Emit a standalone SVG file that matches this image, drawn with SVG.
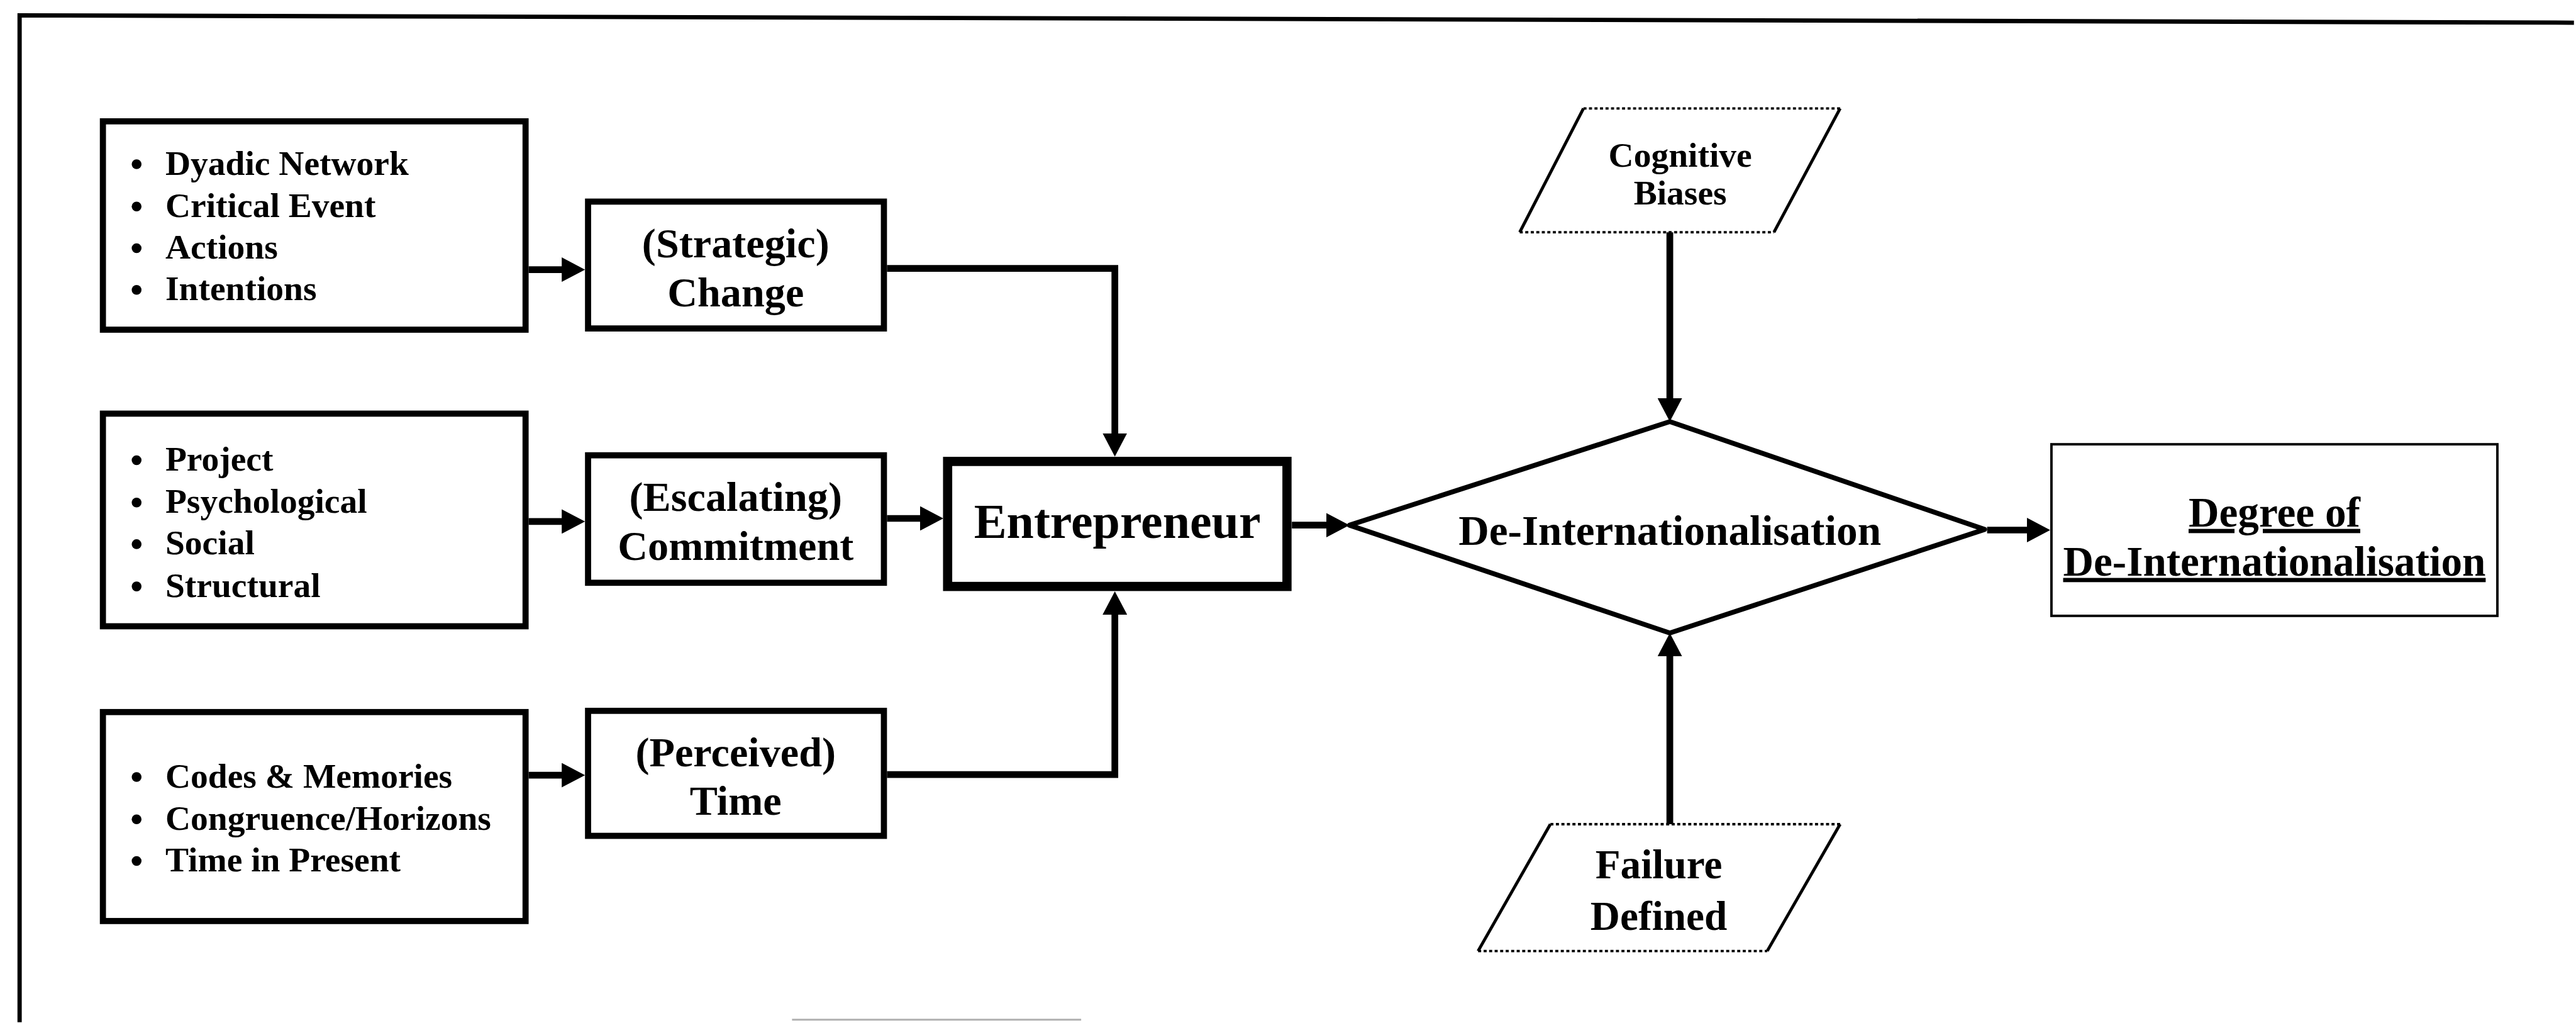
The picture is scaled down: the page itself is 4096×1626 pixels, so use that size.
<svg xmlns="http://www.w3.org/2000/svg" width="4096" height="1626" viewBox="0 0 4096 1626">
  <style>
    .box { fill: #fff; stroke: #000; stroke-width: 10; }
    .main { fill: #fff; stroke: #000; stroke-width: 15; }
    .thin { fill: #fff; stroke: #000; stroke-width: 4; }
    .dia { fill: #fff; stroke: #000; stroke-width: 8; stroke-linejoin: round; }
    .pfill { fill: #fff; stroke: none; }
    .dot { fill: none; stroke: #000; stroke-width: 4; stroke-dasharray: 5 4; }
    .side { fill: none; stroke: #000; stroke-width: 5; }
    .conn { fill: none; stroke: #000; stroke-width: 11; marker-end: url(#head); }
    .t { font-family: "Liberation Serif", "Times New Roman", serif; font-weight: bold; fill: #000; }
    .list { font-size: 57px; }
    .mid { font-size: 68px; text-anchor: middle; }
    .big { font-size: 80px; text-anchor: middle; }
    .dec { font-size: 69px; text-anchor: middle; }
    .inp { font-size: 57px; text-anchor: middle; }
    .inp2 { font-size: 67px; text-anchor: middle; }
    .ul { text-decoration: underline; }
  </style>
  <defs>
    <marker id="head" markerUnits="userSpaceOnUse" viewBox="0 0 38 40" markerWidth="38" markerHeight="40" refX="26" refY="20" orient="auto">
      <path d="M0,0 L38,20 L0,40 Z" fill="#000"/>
    </marker>
  </defs>
  <rect width="4096" height="1626" fill="#fff"/>
  <g transform="scale(0.974)">
    <!-- outer frame: left and top rules only -->
    <path d="M32,1668 L32,25 L4202,37" fill="none" stroke="#000" stroke-width="7"/>
    <path d="M1293,1664 H1765" fill="none" stroke="#b0b0b0" stroke-width="3"/>

    <!-- antecedent lists -->
    <g id="list-change">
      <rect class="box" x="168" y="198" width="690" height="340"/>
      <circle cx="223" cy="268" r="8"/><circle cx="223" cy="337" r="8"/>
      <circle cx="223" cy="405" r="8"/><circle cx="223" cy="473" r="8"/>
      <text class="t list" x="270" y="285">Dyadic Network</text>
      <text class="t list" x="270" y="354">Critical Event</text>
      <text class="t list" x="270" y="422">Actions</text>
      <text class="t list" x="270" y="490">Intentions</text>
    </g>
    <g id="list-commitment">
      <rect class="box" x="168" y="675" width="690" height="347"/>
      <circle cx="223" cy="751" r="8"/><circle cx="223" cy="820" r="8"/>
      <circle cx="223" cy="888" r="8"/><circle cx="223" cy="957" r="8"/>
      <text class="t list" x="270" y="768">Project</text>
      <text class="t list" x="270" y="837">Psychological</text>
      <text class="t list" x="270" y="905">Social</text>
      <text class="t list" x="270" y="974">Structural</text>
    </g>
    <g id="list-time">
      <rect class="box" x="168" y="1162" width="690" height="341"/>
      <circle cx="223" cy="1268" r="8"/><circle cx="223" cy="1337" r="8"/>
      <circle cx="223" cy="1405" r="8"/>
      <text class="t list" x="270" y="1285">Codes &amp; Memories</text>
      <text class="t list" x="270" y="1354">Congruence/Horizons</text>
      <text class="t list" x="270" y="1422">Time in Present</text>
    </g>

    <!-- constructs -->
    <g id="strategic-change">
      <rect class="box" x="960" y="329" width="483" height="207"/>
      <text class="t mid" x="1201" y="420">(Strategic)</text>
      <text class="t mid" x="1201" y="500">Change</text>
    </g>
    <g id="escalating-commitment">
      <rect class="box" x="960" y="743" width="483" height="208"/>
      <text class="t mid" x="1201" y="834">(Escalating)</text>
      <text class="t mid" x="1201" y="914">Commitment</text>
    </g>
    <g id="perceived-time">
      <rect class="box" x="960" y="1160" width="483" height="204"/>
      <text class="t mid" x="1201" y="1251">(Perceived)</text>
      <text class="t mid" x="1201" y="1330">Time</text>
    </g>

    <g id="entrepreneur">
      <rect class="main" x="1547" y="753" width="554" height="204"/>
      <text class="t big" x="1824" y="878">Entrepreneur</text>
    </g>

    <g id="de-internationalisation">
      <polygon class="dia" points="2726,688 3240,864 2726,1033 2203,857"/>
      <text class="t dec" x="2726" y="889">De-Internationalisation</text>
    </g>

    <g id="cognitive-biases">
      <polygon class="pfill" points="2585,177 3004,177 2896,379 2481,379"/>
      <path class="dot" d="M2585,177 H3004 M2481,379 H2896"/>
      <path class="side" d="M2585,177 L2481,379 M3004,177 L2896,379"/>
      <text class="t inp" x="2743" y="272">Cognitive</text>
      <text class="t inp" x="2743" y="334">Biases</text>
    </g>

    <g id="failure-defined">
      <polygon class="pfill" points="2531,1345 3004,1345 2885,1552 2413,1552"/>
      <path class="dot" d="M2531,1345 H3004 M2413,1552 H2885"/>
      <path class="side" d="M2531,1345 L2413,1552 M3004,1345 L2885,1552"/>
      <text class="t inp2" x="2708" y="1433">Failure</text>
      <text class="t inp2" x="2708" y="1517">Defined</text>
    </g>

    <g id="degree">
      <rect class="thin" x="3349" y="725" width="728" height="280"/>
      <text class="t dec ul" x="3713" y="859">Degree of</text>
      <text class="t dec ul" x="3713" y="939">De-Internationalisation</text>
    </g>

    <!-- connectors -->
    <g id="connectors">
      <path class="conn" d="M863,440 H943"/>
      <path class="conn" d="M863,851 H943"/>
      <path class="conn" d="M863,1265 H943"/>
      <path class="conn" d="M1448,438 H1820 V733"/>
      <path class="conn" d="M1448,846 H1528"/>
      <path class="conn" d="M1448,1264 H1820 V977"/>
      <path class="conn" d="M2109,857 H2191"/>
      <path class="conn" d="M2726,379 V676"/>
      <path class="conn" d="M2726,1345 V1045"/>
      <path class="conn" d="M3244,865 H3335"/>
    </g>
  </g>
</svg>
